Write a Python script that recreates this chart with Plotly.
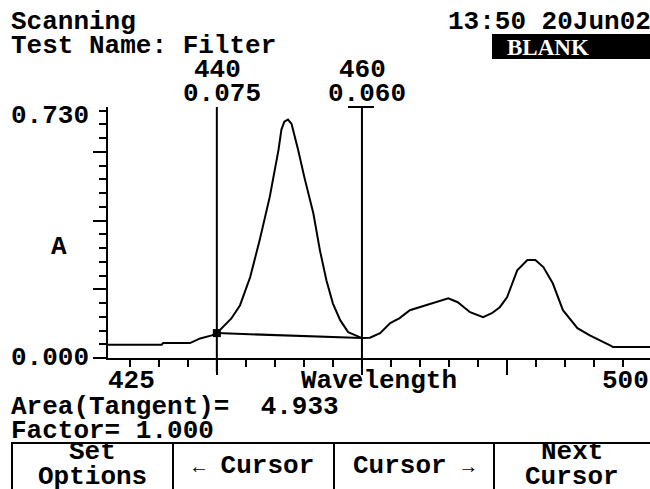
import plotly.graph_objects as go

# ---------------- data ----------------
wavelength = [425.0, 432.4, 432.6, 436.3, 437.7, 438.6, 439.3, 440.0, 440.4, 442.0,
              443.2, 444.6, 445.9, 447.3, 448.5, 448.9, 449.3, 449.8, 450.3, 450.6,
              451.2, 452.1, 452.8, 453.3, 454.2, 455.1, 456.0, 457.0, 458.1, 460.0,
              461.1, 462.5, 463.9, 465.2, 466.6, 468.4, 470.3, 471.9, 473.2, 474.9,
              476.7, 477.9, 479.0, 480.0, 481.4, 482.8, 483.9, 485.0, 486.3, 487.7,
              489.7, 491.4, 494.2, 494.6, 499.7]
absorbance = [0.040, 0.040, 0.045, 0.045, 0.059, 0.063, 0.068, 0.075, 0.084, 0.119,
              0.159, 0.244, 0.355, 0.486, 0.627, 0.688, 0.712, 0.718, 0.705, 0.680,
              0.627, 0.541, 0.476, 0.436, 0.325, 0.234, 0.164, 0.114, 0.078, 0.060,
              0.061, 0.075, 0.105, 0.120, 0.144, 0.156, 0.168, 0.180, 0.168, 0.138,
              0.123, 0.135, 0.153, 0.183, 0.264, 0.295, 0.295, 0.274, 0.225, 0.144,
              0.090, 0.068, 0.038, 0.033, 0.033]

cursor_nm = [440, 460]
cursor_abs = [0.075, 0.060]
cursor_nm_labels = ["440", "460"]
cursor_abs_labels = ["0.075", "0.060"]

x_range = [425, 499.7]
y_range = [0, 0.756]
x_end_labels = ["425", "500"]
y_end_labels = ["0.000", "0.730"]
y_end_values = [0.0, 0.730]
x_major_ticks = [440, 460, 480]
y_major_ticks = [0.0, 0.207, 0.414, 0.621]

header_left = ["Scanning", "Test Name: Filter"]
header_right = "13:50 20Jun02"
status_text = "BLANK"
area_text = "Area(Tangent)=  4.933"
factor_text = "Factor= 1.000"
# button label lines: (text, centre x px, centre y px)
button_lines = [
    ("Set", 92, 452), ("Options", 92, 477),
    ("<span style='font-size:20px'>←</span> Cursor", 253, 466),
    ("Cursor <span style='font-size:20px'>→</span>", 413, 466),
    ("Next", 572, 452), ("Cursor", 572, 477),
]

# ---------------- geometry helpers ----------------
W, H = 650, 489
L, R, T, B = 108, 0, 107, 131
PW = W - L - R
PH = H - T - B


def px(xp):
    return (xp - L) / PW


def py(yp):
    return (H - B - yp) / PH


FONT = "Liberation Mono"
F = dict(family=FONT, size=26, color="black", weight="bold")

fig = go.Figure()

# curve
fig.add_trace(go.Scatter(x=wavelength, y=absorbance, mode="lines",
                         line=dict(color="black", width=2), hoverinfo="skip"))
# tangent baseline between cursors
fig.add_trace(go.Scatter(x=cursor_nm, y=cursor_abs, mode="lines",
                         line=dict(color="black", width=2), hoverinfo="skip"))
# square marker on first cursor
fig.add_trace(go.Scatter(x=cursor_nm[:1], y=cursor_abs[:1], mode="markers",
                         marker=dict(symbol="square", size=8, color="black"),
                         hoverinfo="skip"))

shapes = []
# cursor lines
for nm in cursor_nm:
    shapes.append(dict(type="line", xref="x", yref="paper", x0=nm, x1=nm,
                       y0=py(372), y1=1, line=dict(color="black", width=2)))
# T-bar on active cursor
shapes.append(dict(type="line", xref="paper", yref="paper",
                   x0=px(348), x1=px(374), y0=1, y1=1,
                   line=dict(color="black", width=2)))
# status box
shapes.append(dict(type="rect", xref="paper", yref="paper",
                   x0=px(492), x1=px(651), y0=py(59), y1=py(34),
                   fillcolor="black", line=dict(width=0)))
# button frame
shapes.append(dict(type="rect", xref="paper", yref="paper",
                   x0=px(12), x1=px(652), y0=py(492), y1=py(443),
                   line=dict(color="black", width=2)))
for xd in [173, 334, 494]:
    shapes.append(dict(type="line", xref="paper", yref="paper",
                       x0=px(xd), x1=px(xd), y0=py(492), y1=py(443),
                       line=dict(color="black", width=2)))

ann = []


def add_text(text, xp, yp, xanchor="center", font=None):
    ann.append(dict(text=text, xref="paper", yref="paper", x=px(xp), y=py(yp),
                    xanchor=xanchor, yanchor="middle", showarrow=False,
                    borderpad=0, font=font or F))


add_text(header_left[0], 10, 22, "left")
add_text(header_left[1], 10, 46, "left")
add_text(header_right, 652, 22, "right")
add_text(status_text, 548, 47, "center",
         dict(family="Liberation Serif", size=23, color="white", weight="bold"))
for i, nm in enumerate(cursor_nm):
    xc = 217 + (nm - 440) * PW / (x_range[1] - x_range[0])
    add_text(cursor_nm_labels[i], xc, 70)
    add_text(cursor_abs_labels[i], xc + 5, 94)
# y end labels
for v, t in zip(y_end_values, y_end_labels):
    ann.append(dict(text=t, xref="paper", yref="y", x=px(90), y=v,
                    xanchor="right", yanchor="middle", showarrow=False,
                    borderpad=0, font=F))
add_text("A", 59, 247)
add_text(x_end_labels[0], 131, 381)
add_text("Wavelength", 379, 381)
add_text(x_end_labels[1], 625, 381)
add_text(area_text, 10, 407, "left")
add_text(factor_text, 10, 431, "left")
for txt, xc, yc in button_lines:
    add_text(txt, xc, yc)

fig.update_layout(
    width=W, height=H, margin=dict(l=L, r=R, t=T, b=B),
    paper_bgcolor="white", plot_bgcolor="white", showlegend=False,
    shapes=shapes, annotations=ann,
    xaxis=dict(range=x_range, showgrid=False, zeroline=False, showline=True,
               linecolor="black", linewidth=2, ticks="outside", tickmode="array",
               tickvals=x_major_ticks, ticklen=15, tickwidth=2, tickcolor="black",
               showticklabels=False,
               minor=dict(ticks="outside", tick0=428, dtick=4, ticklen=7,
                          tickwidth=2, tickcolor="black")),
    yaxis=dict(range=y_range, showgrid=False, zeroline=False, showline=True,
               linecolor="black", linewidth=2, ticks="outside", tickmode="array",
               tickvals=y_major_ticks, ticklen=13, tickwidth=2, tickcolor="black",
               showticklabels=False,
               minor=dict(ticks="outside", tick0=0, dtick=0.0414, ticklen=7,
                          tickwidth=2, tickcolor="black")),
)

fig.write_html("out.html", config={"displayModeBar": False},
               post_script="document.body.style.margin='0';")
